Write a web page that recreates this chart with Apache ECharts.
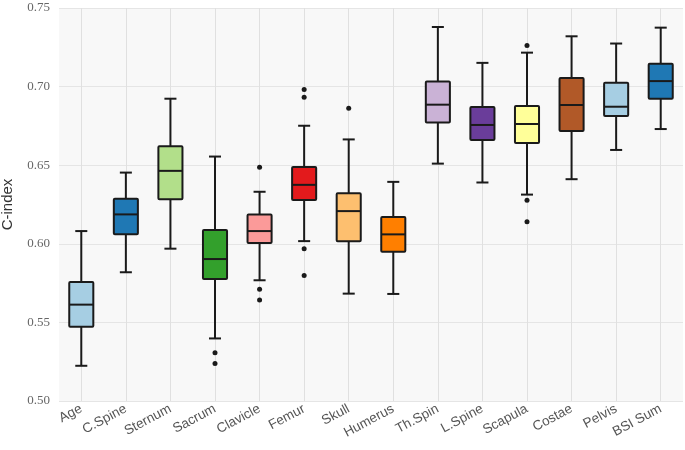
<!DOCTYPE html>
<html>
<head>
<meta charset="utf-8">
<script src="https://cdn.jsdelivr.net/npm/echarts@6/dist/echarts.min.js"></script>
<style>
html, body { margin: 0; padding: 0; background: #fff; }
#main { width: 685px; height: 450px; }
</style>
</head>
<body>
<div id="main"></div>
<script>
var main = echarts.init(document.getElementById('main'));

// 类别
var categories = ['Age', 'C.Spine', 'Sternum', 'Sacrum', 'Clavicle', 'Femur', 'Skull',
	'Humerus', 'Th.Spin', 'L.Spine', 'Scapula', 'Costae', 'Pelvis', 'BSI Sum'];

// 箱线图数值: [下须, Q1, 中位数, Q3, 上须]
var boxLow = [0.5224, 0.5819, 0.5969, 0.5398, 0.5768, 0.6017, 0.5683, 0.5681, 0.6510, 0.6390, 0.6313, 0.6411, 0.6597, 0.6730];
var boxQ1 = [0.5472, 0.6060, 0.6284, 0.5776, 0.6005, 0.6279, 0.6017, 0.5950, 0.6772, 0.6661, 0.6641, 0.6718, 0.6813, 0.6923];
var boxMedian = [0.5613, 0.6187, 0.6464, 0.5903, 0.6081, 0.6375, 0.6208, 0.6060, 0.6885, 0.6756, 0.6762, 0.6883, 0.6872, 0.7035];
var boxQ3 = [0.5757, 0.6286, 0.6620, 0.6087, 0.6187, 0.6489, 0.6322, 0.6170, 0.7032, 0.6870, 0.6876, 0.7054, 0.7024, 0.7145];
var boxHigh = [0.6081, 0.6453, 0.6923, 0.6555, 0.6331, 0.6751, 0.6664, 0.6394, 0.7379, 0.7151, 0.7216, 0.7320, 0.7274, 0.7375];

// 离群点
var outlierCat = ['Sacrum', 'Sacrum', 'Clavicle', 'Clavicle', 'Clavicle', 'Femur', 'Femur', 'Femur', 'Femur', 'Skull', 'Scapula', 'Scapula', 'Scapula'];
var outlierVal = [0.5307, 0.5239, 0.6487, 0.5711, 0.5643, 0.6982, 0.6933, 0.5969, 0.5798, 0.6863, 0.7261, 0.6277, 0.6140];

// Paired 配色
var colors = ['#a6cee3', '#1f78b4', '#b2df8a', '#33a02c', '#fb9a99', '#e31a1c', '#fdbf6f',
	'#ff7f00', '#cab2d6', '#6a3d9a', '#ffff99', '#b15928', '#a6cee3', '#1f78b4'];

var boxData = [];
for (var i = 0; i < categories.length; i++) {
	boxData.push([i, boxLow[i], boxQ1[i], boxMedian[i], boxQ3[i], boxHigh[i]]);
}
var outlierData = [];
for (var i = 0; i < outlierCat.length; i++) {
	outlierData.push([outlierCat[i], outlierVal[i]]);
}

function renderBox(params, api) {
	var idx = api.value(0);
	var c = api.coord([idx, api.value(3)]);
	var band = api.size([1, 0])[0];
	var bw = band * 0.54;
	var cw = band * 0.27;
	var x = c[0];
	var yLow = api.coord([idx, api.value(1)])[1];
	var yQ1 = api.coord([idx, api.value(2)])[1];
	var yMed = c[1];
	var yQ3 = api.coord([idx, api.value(4)])[1];
	var yHigh = api.coord([idx, api.value(5)])[1];
	var line = { stroke: '#1a1a1a', lineWidth: 2 };
	return {
		type: 'group',
		children: [
			{ type: 'line', shape: { x1: x, y1: yHigh, x2: x, y2: yQ3 }, style: line },
			{ type: 'line', shape: { x1: x, y1: yQ1, x2: x, y2: yLow }, style: line },
			{ type: 'line', shape: { x1: x - cw / 2, y1: yHigh, x2: x + cw / 2, y2: yHigh }, style: line },
			{ type: 'line', shape: { x1: x - cw / 2, y1: yLow, x2: x + cw / 2, y2: yLow }, style: line },
			{ type: 'rect', shape: { x: x - bw / 2, y: yQ3, width: bw, height: yQ1 - yQ3, r: 1 },
				style: { fill: colors[idx], stroke: '#1a1a1a', lineWidth: 2 } },
			{ type: 'line', shape: { x1: x - bw / 2, y1: yMed, x2: x + bw / 2, y2: yMed }, style: line }
		]
	};
}

option = {
	backgroundColor: '#ffffff',
	animation: false,
	grid: {
		left: 59,
		right: 2,
		top: 8,
		bottom: 49,
		outerBoundsMode: 'none',
		containLabel: false,
		show: true,
		backgroundColor: '#f8f8f8',
		borderWidth: 0
	},
	xAxis: {
		type: 'category',
		data: categories,
		axisLine: { show: false },
		axisTick: { show: false },
		splitLine: { show: true, alignWithLabel: true, lineStyle: { color: '#e0e0e0', width: 1 } },
		axisLabel: {
			rotate: 28,
			interval: 0,
			margin: 7,
			color: '#555',
			fontSize: 13.5,
			fontFamily: 'Liberation Sans'
		}
	},
	yAxis: {
		type: 'value',
		min: 0.5,
		max: 0.75,
		interval: 0.05,
		name: 'C-index',
		nameLocation: 'middle',
		nameGap: 44,
		nameTextStyle: { color: '#333', fontSize: 15, fontFamily: 'Liberation Sans' },
		axisLine: { show: false },
		axisTick: { show: false },
		splitLine: { lineStyle: { color: '#e5e5e5', width: 1 } },
		axisLabel: {
			color: '#666',
			fontSize: 13,
			fontFamily: 'Liberation Serif',
			margin: 9,
			formatter: function (v) { return v.toFixed(2); }
		}
	},
	series: [{
		type: 'custom',
		renderItem: renderBox,
		encode: { x: 0, y: [1, 2, 3, 4, 5] },
		data: boxData,
		z: 3
	}, {
		type: 'scatter',
		data: outlierData,
		symbol: 'circle',
		symbolSize: 5,
		itemStyle: { color: '#1a1a1a', opacity: 1 },
		z: 4
	}]
};
main.setOption(option);
</script>
</body>
</html>
